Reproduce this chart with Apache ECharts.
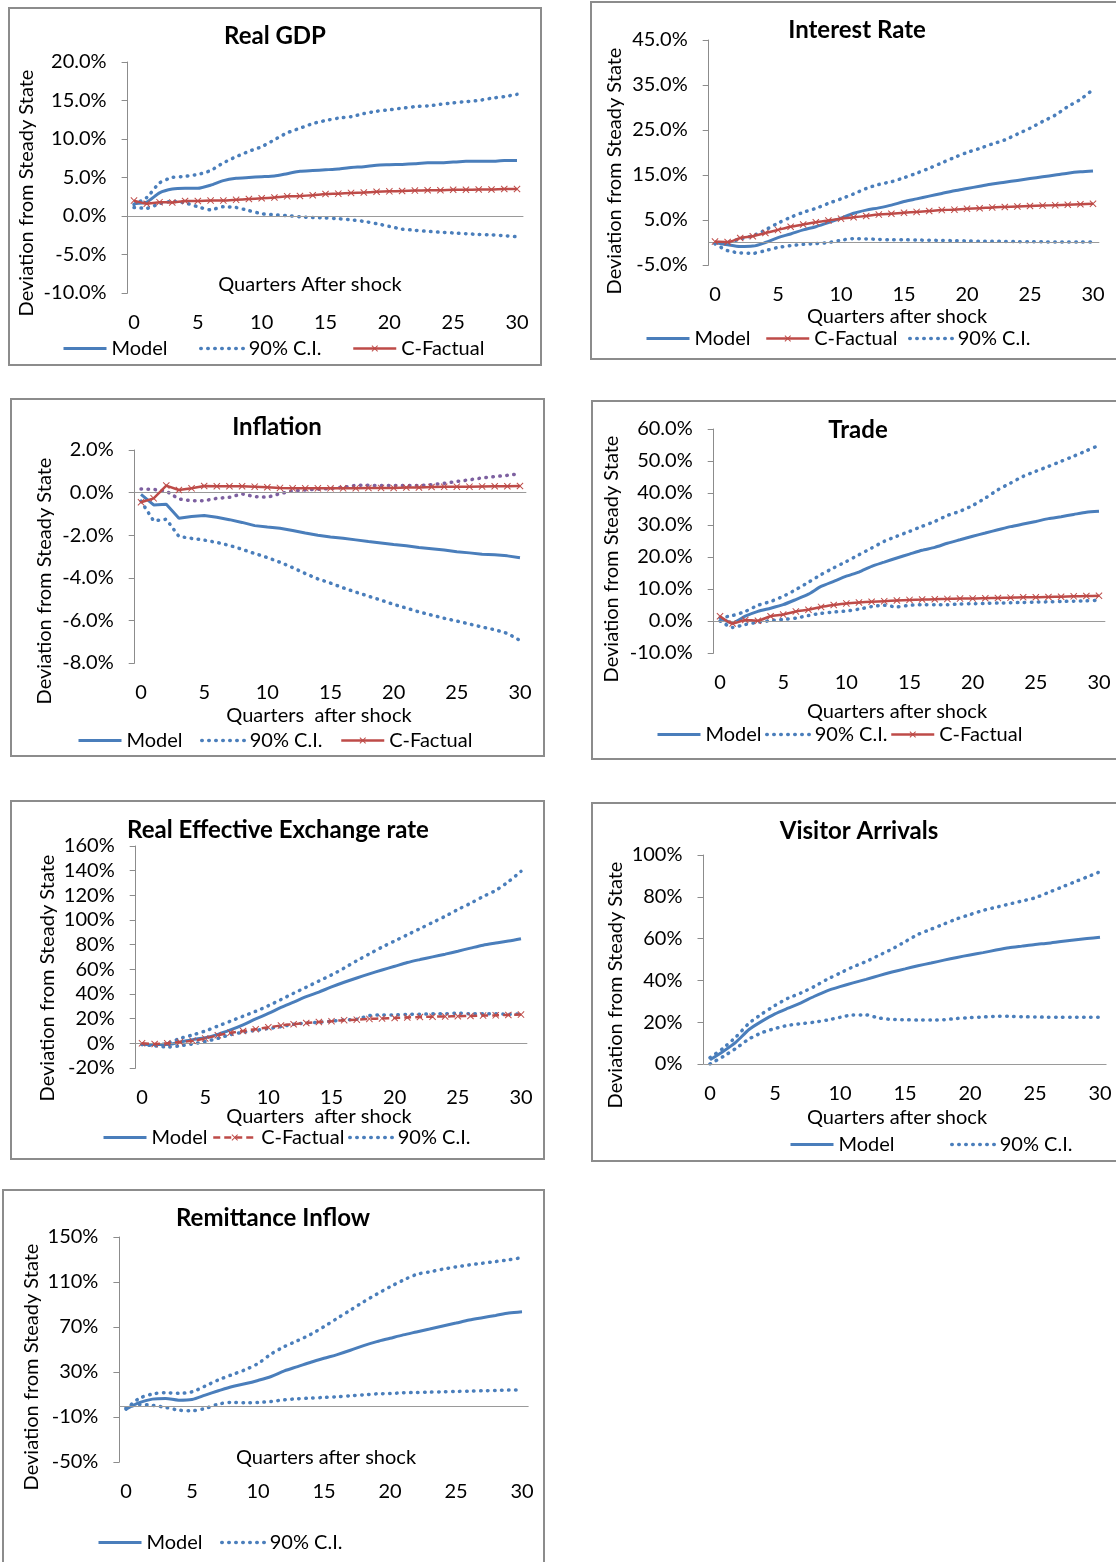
<!DOCTYPE html>
<html>
<head>
<meta charset="utf-8">
<title>Impulse responses</title>
<script src="https://cdn.jsdelivr.net/npm/echarts@6/dist/echarts.min.js"></script>
<style>
  html, body { margin: 0; padding: 0; background: #fff; width: 1116px; height: 1562px; overflow: hidden; position: relative; }
  .panel { position: absolute; box-sizing: border-box; border: 2px solid #8c8c8c; background: #fff; }
</style>
</head>
<body>
<script>
// Quarters after the shock (category axis)
const quarters = ['0','1','2','3','4','5','6','7','8','9','10','11','12','13','14','15',
  '16','17','18','19','20','21','22','23','24','25','26','27','28','29','30'];

// Real GDP, % deviation from steady state
const gdpModel   = [1.6,1.8,3.0,3.5,3.6,3.6,4.0,4.6,4.9,5.0,5.1,5.2,5.5,5.8,5.9,6.0,6.1,6.3,6.4,6.6,6.65,6.7,6.8,6.9,6.9,7.0,7.1,7.1,7.1,7.2,7.2];
const gdpUpper   = [1.5,2.4,4.3,5.0,5.15,5.4,5.9,6.9,7.7,8.4,9.0,9.9,10.8,11.4,12.0,12.4,12.7,12.9,13.3,13.6,13.8,14.0,14.2,14.3,14.5,14.7,14.85,15.0,15.3,15.5,15.8];
const gdpLower   = [1.1,1.0,1.6,1.9,1.7,1.2,0.8,1.2,1.1,0.7,0.3,0.15,0.05,-0.1,-0.2,-0.25,-0.35,-0.5,-0.7,-1.0,-1.35,-1.7,-1.85,-2.0,-2.1,-2.2,-2.3,-2.4,-2.45,-2.55,-2.7];
const gdpFactual = [2.0,1.6,1.8,1.75,1.95,1.95,2.0,2.0,2.1,2.2,2.3,2.4,2.55,2.6,2.7,2.85,2.9,3.0,3.05,3.15,3.2,3.25,3.3,3.35,3.35,3.4,3.4,3.45,3.45,3.5,3.5];

// Interest rate
const rateModel   = [0,-0.5,-0.9,-0.8,0,1.1,1.9,2.8,3.5,4.4,5.4,6.5,7.2,7.7,8.3,9.1,9.7,10.3,10.9,11.5,12.0,12.5,13.0,13.4,13.8,14.2,14.6,15.0,15.4,15.7,15.9];
const rateUpper   = [-0.2,0,0.8,1.5,2.8,4.3,5.6,6.7,7.6,8.7,9.7,10.8,12.0,12.9,13.5,14.4,15.4,16.5,17.7,18.9,20.0,20.9,21.9,22.8,24.1,25.4,26.9,28.3,30.2,31.8,34.0];
const rateLower   = [-0.3,-1.8,-2.3,-2.4,-1.8,-1.1,-0.7,-0.4,-0.25,0,0.5,0.85,0.8,0.7,0.6,0.6,0.55,0.5,0.45,0.4,0.35,0.3,0.3,0.25,0.2,0.15,0.15,0.1,0.1,0.1,0.1];
const rateFactual = [0.2,0.1,1.0,1.4,2.1,2.8,3.5,4.0,4.5,4.9,5.3,5.6,5.9,6.2,6.4,6.6,6.8,7.0,7.2,7.3,7.5,7.6,7.8,7.9,8.0,8.1,8.2,8.3,8.4,8.5,8.6];

// Inflation
const inflModel   = [-0.08,-0.58,-0.55,-1.2,-1.12,-1.08,-1.16,-1.27,-1.4,-1.55,-1.62,-1.67,-1.78,-1.9,-2.0,-2.08,-2.14,-2.22,-2.3,-2.37,-2.44,-2.5,-2.58,-2.64,-2.7,-2.78,-2.83,-2.89,-2.92,-2.97,-3.06];
const inflLower   = [-0.4,-1.33,-1.25,-2.06,-2.15,-2.23,-2.34,-2.48,-2.66,-2.86,-3.05,-3.27,-3.52,-3.8,-4.05,-4.25,-4.47,-4.67,-4.86,-5.05,-5.25,-5.42,-5.6,-5.75,-5.9,-6.03,-6.17,-6.31,-6.44,-6.61,-6.94];
const inflUpper   = [0.17,0.15,0.07,-0.3,-0.38,-0.38,-0.27,-0.22,-0.06,-0.19,-0.22,-0.05,0.08,0.12,0.16,0.19,0.25,0.34,0.34,0.33,0.33,0.33,0.33,0.37,0.44,0.52,0.6,0.69,0.75,0.81,0.89];
const inflFactual = [-0.45,-0.27,0.33,0.12,0.2,0.31,0.3,0.3,0.3,0.28,0.25,0.22,0.2,0.2,0.2,0.2,0.2,0.21,0.22,0.22,0.22,0.24,0.24,0.26,0.27,0.28,0.28,0.29,0.3,0.3,0.31];

// Trade
const tradeModel   = [0.9,-0.6,1.5,3.0,4.0,5.1,6.7,8.4,10.8,12.4,14.0,15.3,17.1,18.4,19.7,20.9,22.1,23.0,24.3,25.4,26.5,27.5,28.5,29.5,30.3,31.1,32.0,32.6,33.3,34.0,34.3];
const tradeUpper   = [1.0,1.7,3.0,4.9,6.1,7.7,9.8,12.1,14.5,16.6,18.6,20.7,22.8,24.9,26.5,28.0,29.6,31.1,33.0,34.3,36.1,38.4,41.0,43.1,45.2,46.8,48.3,49.9,51.5,53.2,54.9];
const tradeLower   = [0,-2.0,-1.1,-0.4,0.1,0.5,0.9,1.7,2.4,2.8,3.1,3.7,4.5,4.9,4.4,4.9,5.1,5.1,5.1,5.3,5.4,5.5,5.6,5.7,5.8,5.9,6.0,6.1,6.2,6.3,6.5];
const tradeFactual = [1.5,-0.8,0.3,0.1,1.5,2.0,3.0,3.5,4.4,5.0,5.5,5.8,6.0,6.2,6.4,6.6,6.7,6.8,6.9,7.0,7.0,7.1,7.2,7.3,7.4,7.4,7.5,7.6,7.7,7.8,7.9];

// Real effective exchange rate
const reerModel   = [-1,-1,-1,1,3,4.6,7.3,10.9,15,19.8,24.2,29.1,33.4,37.8,41.6,45.7,49.5,53.0,56.3,59.5,62.5,65.5,67.9,70.1,72.3,74.7,77.2,79.6,81.3,82.9,84.8];
const reerFactual = [0,-0.5,0,1,2,4,6.5,8.5,10,11.5,13,14.5,15.5,16.5,17.3,18,18.8,19.2,19.8,20.2,20.6,21,21.3,21.6,21.8,22,22.2,22.5,22.7,23,23.3];
const reerUpper   = [-1,-1.5,0,4,6.8,10,14,18,22,26,30.5,35.5,40.6,45.5,50.5,55.5,61,67,72.5,78,83,88,93,98,103,108.5,113.5,119,124,131,139.5];
const reerLower   = [-1,-2,-3,-2,-0.5,1.5,4,7,9,10.5,12,13.5,15.5,16.5,17,18,19,19.5,22.5,23,23,23.5,23.5,24,24,24.5,24,24,24,23.5,24];

// Visitor arrivals
const visitModel = [2,6,10.5,16.5,20.5,24,26.7,29.3,32.3,35,37,38.8,40.5,42.3,44,45.5,47,48.3,49.7,51,52.2,53.3,54.5,55.6,56.4,57.2,57.8,58.6,59.3,60,60.7];
const visitUpper = [3,7.5,13,19.5,24,28,31.5,34,37,40.5,43.5,46.5,49,52,55,58.5,62,64.5,67,69.5,71.5,73.5,75,76.5,78,79.5,82,84.5,87,89.5,92];
const visitLower = [0,3.5,7.5,12,15,17,18.5,19.3,20,21,22.3,23.5,23.5,22,21.3,21.2,21,21,21.2,21.8,22.2,22.5,22.8,22.8,22.6,22.5,22.4,22.4,22.4,22.4,22.4];

// Remittance inflow
const remitModel = [-3,2.7,5.9,6.5,5.0,5.6,9.5,13.3,16.9,19.5,22.5,26,31,34.8,38.7,42.2,45.5,49.3,53.5,57,60,63,65.6,68.2,70.9,73.5,76.2,78.3,80.3,82.4,83.6];
const remitUpper = [-3,6.5,10.4,11.6,11,12.4,17.5,23,27.5,31.9,37.5,46,52.6,57.9,63.5,70.3,77.7,85,92.4,99.2,105.7,111.6,116.7,119,121.4,123.4,125.2,126.7,128.2,129.7,131.7];
const remitLower = [-2,1.2,0.3,-1.5,-3.9,-4.4,-2.4,1.5,3,2.7,2.9,3.8,5.3,6.2,6.8,7.4,8,8.9,9.7,10.6,10.9,11.5,11.8,12.1,12.4,12.7,13,13.3,13.6,13.9,14.2];

// ---- styling ----
const FONT = 'Lato, "Open Sans", sans-serif';
const BLUE = '#4A7EBB', RED = '#BE4B48', PURPLE = '#7D60A0', AXIS = '#8c8c8c', ZERO = '#9a9a9a', TEXT = '#000';
const CROSS = 'path://M0,1L1,0L5,4L9,0L10,1L6,5L10,9L9,10L5,6L1,10L0,9L4,5Z';
const BORDER = 2;
const LABEL_SIZE = 20, TITLE_SIZE = 24;
const WIDTH = { 'Model': 3, '90% C.I.': 3.5, 'C-Factual': 2.5 };
const DOTS = [0.5, 6.5];

function solidLine(data, smooth) {
  return { name: 'Model', type: 'line', data, smooth, symbol: 'none', z: 4,
    lineStyle: { color: BLUE, width: WIDTH['Model'] }, itemStyle: { color: BLUE } };
}
function dottedLine(data, smooth, color) {
  const c = color || BLUE;
  return { name: '90% C.I.', type: 'line', data, smooth, symbol: 'none', z: 3,
    lineStyle: { color: c, width: WIDTH['90% C.I.'], type: DOTS, cap: 'round' }, itemStyle: { color: c } };
}
function factualLine(data, smooth, dashed) {
  return { name: 'C-Factual', type: 'line', data, smooth, symbol: CROSS, symbolSize: 7, showSymbol: true, z: 5,
    lineStyle: { color: RED, width: WIDTH['C-Factual'], type: dashed ? [7, 4] : 'solid' },
    itemStyle: { color: RED } };
}

// Panel layout in page pixels: box = [left, top, width, height]; grid = [left, top, right, bottom]
// legend = list of [name, left of icon]; legendY = vertical centre of the legend row
const panels = [
  { box: [8, 7, 534, 359], grid: [127.6, 62, 523.4, 293], y: [-10, 20, 5, 1],
    title: ['Real GDP', 275, 36], yName: [27, 193], xName: ['Quarters After shock', 310, 285],
    legendY: 347, legend: [['Model', 62], ['90% C.I.', 199], ['C-Factual', 352]],
    series: s => [solidLine(gdpModel, s), dottedLine(gdpUpper, s), dottedLine(gdpLower, s), factualLine(gdpFactual, s)], smooth: 0.2 },
  { box: [590, 1, 545, 359], grid: [708.7, 40, 1099.3, 265], y: [-5, 45, 10, 1],
    title: ['Interest Rate', 857, 30], yName: [615, 171], xName: ['Quarters after shock', 897, 317],
    legendY: 337, legend: [['Model', 645], ['C-Factual', 765], ['90% C.I.', 908]],
    series: s => [solidLine(rateModel, s), factualLine(rateFactual, s), dottedLine(rateUpper, s), dottedLine(rateLower, s)], smooth: 0.3 },
  { box: [10, 398, 535, 359], grid: [134.7, 450, 526.3, 663], y: [-8, 2, 2, 1],
    title: ['Inflation', 277, 427], yName: [45, 581], xName: ['Quarters  after shock', 319, 716],
    legendY: 739, legend: [['Model', 77], ['90% C.I.', 200], ['C-Factual', 340]],
    series: s => [solidLine(inflModel, s), dottedLine(inflLower, s), dottedLine(inflUpper, s, PURPLE), factualLine(inflFactual, s)], smooth: false },
  { box: [591, 400, 545, 360], grid: [713.7, 429, 1105.3, 653], y: [-10, 60, 10, 1],
    title: ['Trade', 858, 430], yName: [612, 559], xName: ['Quarters after shock', 897, 712],
    legendY: 733, legend: [['Model', 656], ['90% C.I.', 765], ['C-Factual', 890]],
    series: s => [solidLine(tradeModel, s), dottedLine(tradeUpper, s), dottedLine(tradeLower, s), factualLine(tradeFactual, s)], smooth: 0.2 },
  { box: [10, 800, 535, 360], grid: [135.7, 846, 527.3, 1068], y: [-20, 160, 20, 0],
    title: ['Real Effective Exchange rate', 278, 830], yName: [48, 978], xName: ['Quarters  after shock', 319, 1117],
    legendY: 1136, legend: [['Model', 102], ['C-Factual', 212], ['90% C.I.', 348]],
    series: s => [solidLine(reerModel, s), factualLine(reerFactual, s, true), dottedLine(reerUpper, s), dottedLine(reerLower, s)], smooth: 0.3 },
  { box: [591, 802, 545, 360], grid: [703.5, 855, 1106.5, 1064], y: [0, 100, 20, 0],
    title: ['Visitor Arrivals', 859, 831], yName: [616, 985], xName: ['Quarters after shock', 897, 1118],
    legendY: 1143, legend: [['Model', 789], ['90% C.I.', 950]],
    series: s => [solidLine(visitModel, s), dottedLine(visitUpper, s), dottedLine(visitLower, s)], smooth: 0.2 },
  { box: [2, 1189, 543, 390], grid: [119.4, 1237, 528.6, 1462], y: [-50, 150, 40, 0],
    title: ['Remittance Inflow', 273, 1218], yName: [32, 1367], xName: ['Quarters after shock', 326, 1458],
    legendY: 1541, legend: [['Model', 97], ['90% C.I.', 220]],
    series: s => [solidLine(remitModel, s), dottedLine(remitUpper, s), dottedLine(remitLower, s)], smooth: 0.3 }
];

panels.forEach(p => {
  const el = document.createElement('div');
  el.className = 'panel';
  el.style.left = p.box[0] + 'px';
  el.style.top = p.box[1] + 'px';
  el.style.width = p.box[2] + 'px';
  el.style.height = p.box[3] + 'px';
  document.body.appendChild(el);
  const ox = p.box[0] + BORDER, oy = p.box[1] + BORDER;
  const [gl, gt, gr, gb] = p.grid;
  const [ymin, ymax, yint, dec] = p.y;

  const series = p.series(p.smooth);
  // horizontal axis line crossing at zero
  series.push({ type: 'line', data: [], z: 1, silent: true,
    markLine: { silent: true, symbol: 'none', animation: false, label: { show: false },
      lineStyle: { color: ZERO, width: 1, type: 'solid' }, data: [{ yAxis: 0 }] } });

  // one legend block per entry so each key sits at its own place on the row
  const legends = p.legend.map(([name, x]) => ({
    data: [name === 'C-Factual' ? name : { name, itemStyle: { opacity: 0 } }],
    left: x - ox, top: p.legendY - oy - 8.5,
    padding: 0, itemGap: 0, itemWidth: 43, itemHeight: 8,
    lineStyle: { width: WIDTH[name] },
    textStyle: { fontSize: LABEL_SIZE, color: TEXT, fontFamily: FONT }
  }));

  const chart = echarts.init(el, null, { renderer: 'canvas' });
  chart.setOption({
    animation: false,
    textStyle: { fontFamily: FONT },
    grid: { left: gl - ox, top: gt - oy, width: gr - gl, height: gb - gt, outerBoundsMode: 'none' },
    xAxis: {
      type: 'category', data: quarters, boundaryGap: true,
      axisLine: { show: false }, axisTick: { show: false },
      axisLabel: { interval: 4, margin: 20, fontSize: LABEL_SIZE, color: TEXT, fontFamily: FONT }
    },
    yAxis: {
      type: 'value', min: ymin, max: ymax, interval: yint,
      axisLine: { show: true, lineStyle: { color: AXIS, width: 1 } },
      axisTick: { show: true, length: 6, lineStyle: { color: AXIS, width: 1 } },
      splitLine: { show: false },
      axisLabel: { margin: 21, fontSize: LABEL_SIZE, color: TEXT, fontFamily: FONT,
        formatter: v => v.toFixed(dec) + '%' }
    },
    legend: legends,
    graphic: [
      { type: 'text', x: p.title[1] - ox, y: p.title[2] - oy, silent: true,
        style: { text: p.title[0], fontSize: TITLE_SIZE, fontWeight: 'bold', fontFamily: FONT, fill: TEXT, align: 'center', verticalAlign: 'middle' } },
      { type: 'text', x: p.yName[0] - ox, y: p.yName[1] - oy, rotation: Math.PI / 2, silent: true,
        style: { text: 'Deviation from Steady State', fontSize: LABEL_SIZE, fontFamily: FONT, fill: TEXT, align: 'center', verticalAlign: 'middle' } },
      { type: 'text', x: p.xName[1] - ox, y: p.xName[2] - oy, silent: true,
        style: { text: p.xName[0], fontSize: LABEL_SIZE, fontFamily: FONT, fill: TEXT, align: 'center', verticalAlign: 'middle' } }
    ],
    series
  });
});
</script>
</body>
</html>
